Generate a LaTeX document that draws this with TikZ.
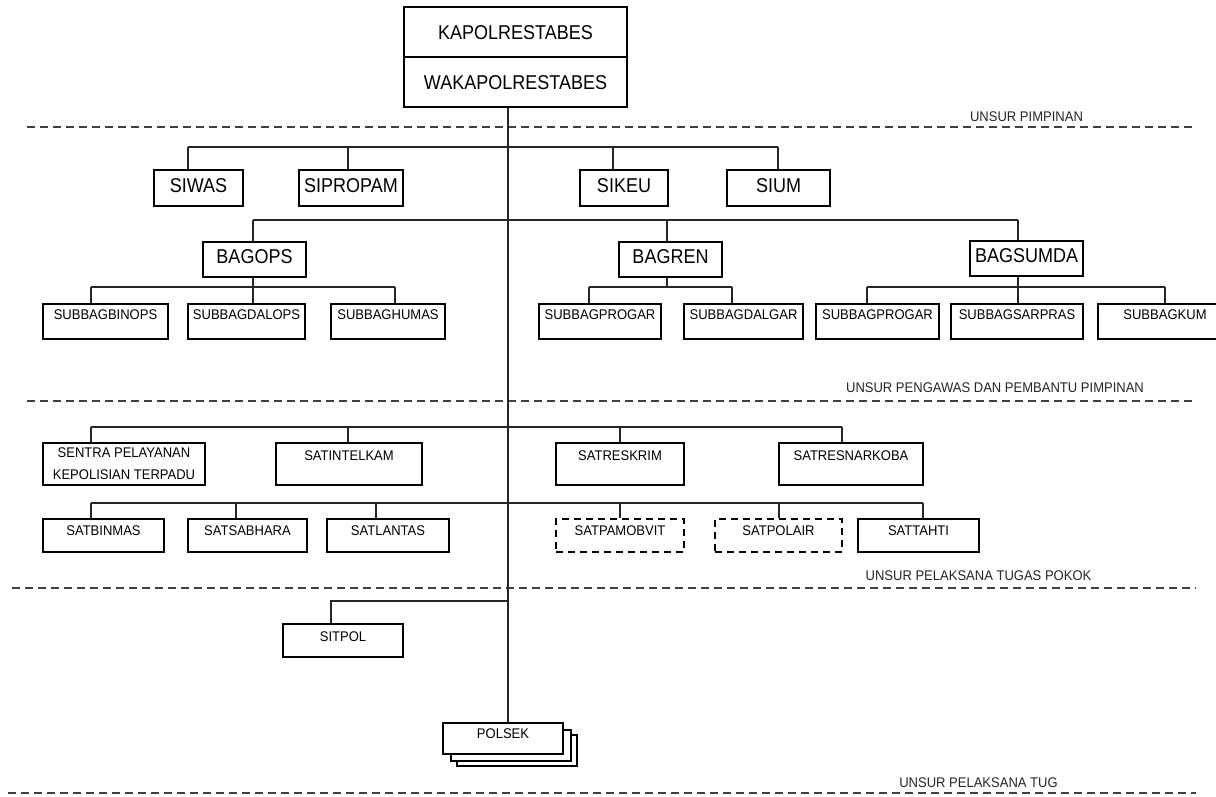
\documentclass[tikz,border=0pt]{standalone}
\usepackage{fontspec}
\setmainfont{Liberation Sans}
\newfontfamily\bigf{Liberation Sans}[FakeStretch=0.9]
\newfontfamily\smf{Liberation Sans}[FakeStretch=0.93]
\usetikzlibrary{calc}
\begin{document}
\begin{tikzpicture}[x=1pt,y=-1pt,
  boxbase/.style={draw, line width=1.5pt, fill=white, inner xsep=0pt, inner ysep=0pt},
  bigtxt/.style={font=\bigf\fontsize{20}{24}\selectfont},
  smtxt/.style={font=\smf\fontsize{14}{22}\selectfont},
  topcell/.style={boxbase, bigtxt, text height=32.2pt, text depth=17.8pt},
  sibox/.style={boxbase, bigtxt, text height=22.2pt, text depth=13.8pt},
  bagbox/.style={boxbase, bigtxt, text height=21.2pt, text depth=13.8pt},
  subbox/.style={boxbase, smtxt, text height=15pt, text depth=20pt},
  satbox/.style={boxbase, smtxt, text height=17pt, text depth=25pt},
  lowbox/.style={boxbase, smtxt, text height=16pt, text depth=17pt},
  dashbox/.style={lowbox, dash pattern=on 7pt off 5pt},
  sitbox/.style={boxbase, smtxt, text height=17pt, text depth=16pt},
  polbox/.style={boxbase, smtxt, text height=15pt, text depth=16pt},
  conn/.style={line width=1.4pt, draw=black!85},
  sepline/.style={line width=1.3pt, draw=black!75, dash pattern=on 8pt off 5pt},
  lbl/.style={smtxt, text=black!85, inner sep=0pt}
]
\useasboundingbox (0,0) rectangle (1216,796);
\clip (0,0) rectangle (1216,796);
\fill[white] (0,0) rectangle (1216,796);

% separators
\coordinate (d1a) at (27,127);  \coordinate (d1b) at (1196,127);
\coordinate (d2a) at (27,401);  \coordinate (d2b) at (1196,401);
\coordinate (d3a) at (12,588);  \coordinate (d3b) at (1196,588);
\coordinate (d4a) at (8,793);   \coordinate (d4b) at (1196,793);
\draw[sepline] (d1a) -- (d1b);
\draw[sepline] (d2a) -- (d2b);
\draw[sepline] (d3a) -- (d3b);
\draw[sepline] (d4a) -- (d4b);
\node[lbl] (lab1) at (1026.5,117) {UNSUR PIMPINAN};
\node[lbl] (lab2) at (995,388) {UNSUR PENGAWAS DAN PEMBANTU PIMPINAN};
\node[lbl] (lab3) at (978.5,576) {UNSUR PELAKSANA TUGAS POKOK};
\node[lbl] (lab4) at (978.5,783) {UNSUR PELAKSANA TUG};

% top
\node[topcell, minimum width=223pt] (kapol) at (515.5,32) {KAPOLRESTABES};
\node[topcell, minimum width=223pt] (waka) at (515.5,82) {WAKAPOLRESTABES};
\coordinate (sp) at (508,0);

% row 1
\node[sibox, minimum width=89pt]  (siwas)    at (198.5,188) {SIWAS};
\node[sibox, minimum width=104pt] (sipropam) at (351,188)   {SIPROPAM};
\node[sibox, minimum width=88pt]  (sikeu)    at (624,188)   {SIKEU};
\node[sibox, minimum width=103pt] (sium)     at (778.5,188) {SIUM};

% row 2
\node[bagbox, minimum width=103pt] (bagops)   at (254.5,259.5)  {BAGOPS};
\node[bagbox, minimum width=103pt] (bagren)   at (670.5,259.5)  {BAGREN};
\node[bagbox, minimum width=113pt] (bagsumda) at (1026.5,258.5) {BAGSUMDA};

% subbag
\node[subbox, minimum width=125pt] (binops)  at (105.5,321.5) {SUBBAGBINOPS};
\node[subbox, minimum width=117pt] (dalops)  at (246.5,321.5) {SUBBAGDALOPS};
\node[subbox, minimum width=114pt] (humas)   at (388,321.5)   {SUBBAGHUMAS};
\node[subbox, minimum width=122pt] (progar)  at (600,321.5)   {SUBBAGPROGAR};
\node[subbox, minimum width=119pt] (dalgar)  at (743.5,321.5) {SUBBAGDALGAR};
\node[subbox, minimum width=123pt] (progarb) at (877.5,321.5) {SUBBAGPROGAR};
\node[subbox, minimum width=132pt] (sarpras) at (1017,321.5)  {SUBBAGSARPRAS};
\node[subbox, minimum width=134pt] (kum)     at (1165,321.5)  {SUBBAGKUM};

% row 3
\node[boxbase, smtxt, align=center, minimum width=162pt, minimum height=42pt] (sentra) at (124,464)
  {SENTRA PELAYANAN\\KEPOLISIAN TERPADU};
\node[satbox, minimum width=146pt] (intel)   at (349,464) {SATINTELKAM};
\node[satbox, minimum width=128pt] (reskrim) at (620,464) {SATRESKRIM};
\node[satbox, minimum width=144pt] (narkoba) at (851,464) {SATRESNARKOBA};

% row 4
\node[lowbox, minimum width=121pt]  (binmas)  at (103.5,535.5) {SATBINMAS};
\node[lowbox, minimum width=119pt]  (sabhara) at (247.5,535.5) {SATSABHARA};
\node[lowbox, minimum width=122pt]  (lantas)  at (388,535.5)   {SATLANTAS};
\node[dashbox, minimum width=128pt] (pamobvit) at (620,535.5)  {SATPAMOBVIT};
\node[dashbox, minimum width=127pt] (polair)  at (778.5,535.5) {SATPOLAIR};
\node[lowbox, minimum width=121pt]  (tahti)   at (918.5,535.5) {SATTAHTI};

% row 5
\node[sitbox, minimum width=120pt] (sitpol) at (343,640.5) {SITPOL};
\node[polbox, minimum width=120pt] (pol3) at (517,750.5) {};
\node[polbox, minimum width=120pt] (pol2) at (511,745.5) {};
\node[polbox, minimum width=120pt] (polsek) at (503,738.5) {POLSEK};

% spine
\draw[conn] (waka.south -| sp) -- (polsek.north -| sp);

% row 1 connectors
\coordinate (a1) at (188,147); \coordinate (a2) at (348,147);
\coordinate (a3) at (613,147); \coordinate (a4) at (778,147);
\draw[conn] (a1) -- (a4);
\draw[conn] (a1) -- (a1 |- siwas.north);
\draw[conn] (a2) -- (a2 |- sipropam.north);
\draw[conn] (a3) -- (a3 |- sikeu.north);
\draw[conn] (a4) -- (a4 |- sium.north);

% row 2 connectors
\coordinate (b1) at (253,220); \coordinate (b2) at (667,220); \coordinate (b3) at (1018,220);
\draw[conn] (b1) -- (b3);
\draw[conn] (b1) -- (b1 |- bagops.north);
\draw[conn] (b2) -- (b2 |- bagren.north);
\draw[conn] (b3) -- (b3 |- bagsumda.north);

% subbag connectors
\coordinate (c1) at (91,287);  \coordinate (c2) at (395,287);
\draw[conn] (c1) -- (c2);
\draw[conn] (b1 |- bagops.south) -- (b1 |- dalops.north);
\draw[conn] (c1) -- (c1 |- binops.north);
\draw[conn] (c2) -- (c2 |- humas.north);
\coordinate (c3) at (589,287); \coordinate (c4) at (732,287);
\draw[conn] (c3) -- (c4);
\draw[conn] (b2 |- bagren.south) -- (b2 |- c3);
\draw[conn] (c3) -- (c3 |- progar.north);
\draw[conn] (c4) -- (c4 |- dalgar.north);
\coordinate (c5) at (867,287); \coordinate (c6) at (1165,287);
\draw[conn] (c5) -- (c6);
\draw[conn] (b3 |- bagsumda.south) -- (b3 |- sarpras.north);
\draw[conn] (c5) -- (c5 |- progarb.north);
\draw[conn] (c6) -- (c6 |- kum.north);

% row 3 connectors
\coordinate (e1) at (91,427);  \coordinate (e2) at (348,427);
\coordinate (e3) at (620,427); \coordinate (e4) at (842,427);
\draw[conn] (e1) -- (e4);
\draw[conn] (e1) -- (e1 |- sentra.north);
\draw[conn] (e2) -- (e2 |- intel.north);
\draw[conn] (e3) -- (e3 |- reskrim.north);
\draw[conn] (e4) -- (e4 |- narkoba.north);

% row 4 connectors
\coordinate (f1) at (91,503);  \coordinate (f2) at (236,503);
\coordinate (f3) at (376,503); \coordinate (f4) at (620,503);
\coordinate (f5) at (779,503); \coordinate (f6) at (923,503);
\draw[conn] (f1) -- (f6);
\draw[conn] (f1) -- (f1 |- binmas.north);
\draw[conn] (f2) -- (f2 |- sabhara.north);
\draw[conn] (f3) -- (f3 |- lantas.north);
\draw[conn] (f4) -- (f4 |- pamobvit.north);
\draw[conn] (f5) -- (f5 |- polair.north);
\draw[conn] (f6) -- (f6 |- tahti.north);

% row 5 connector
\coordinate (g1) at (331,601);
\draw[conn] (g1 -| sp) -- (g1) -- (g1 |- sitpol.north);
\end{tikzpicture}
\end{document}
